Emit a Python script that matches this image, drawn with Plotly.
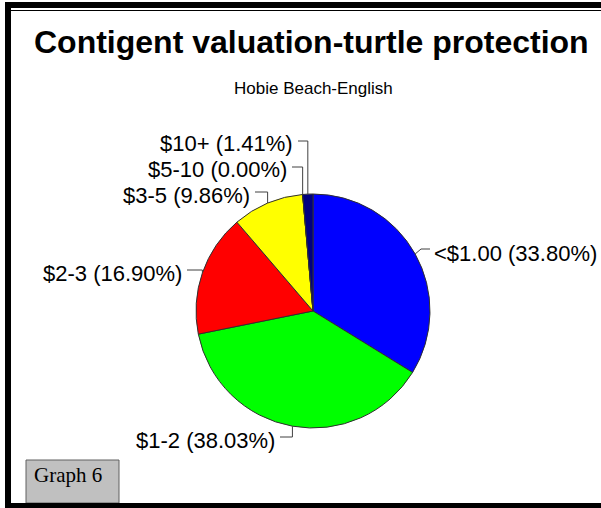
import math
import plotly.graph_objects as go

# ---- data ----
categories = ["<$1.00", "$1-2", "$2-3", "$3-5", "$5-10", "$10+"]
percents = [33.80, 38.03, 16.90, 9.86, 0.00, 1.41]
slice_colors = ["#0000FF", "#00FF00", "#FF0000", "#FFFF00", "#FF00FF", "#000080"]
title_text = "Contigent valuation-turtle protection"
subtitle_text = "Hobie Beach-English"
badge_text = "Graph 6"

# ---- layout helpers (pixels -> paper) ----
W, H = 601, 508
def px(x):
    return x / W
def py(y):
    return 1 - y / H

cx, cy, R = 313, 311, 117
dom_x = [px(cx - R), px(cx + R)]
dom_y = [py(cy + R), py(cy - R)]

# label placements: (text x, text center y, leader y, side)
label_pos = [
    (433, 253, 249, "left"),
    (276, 440, 437, "right"),
    (183, 273, 270, "right"),
    (251, 195, 192, "right"),
    (288, 169, 167, "right"),
    (294, 144, 141, "right"),
]

fig = go.Figure()
fig.add_trace(go.Pie(
    labels=categories,
    values=percents,
    sort=False,
    direction="clockwise",
    rotation=0,
    marker=dict(colors=slice_colors, line=dict(color="#303030", width=1)),
    textinfo="none",
    hoverinfo="label+percent",
    showlegend=False,
    domain=dict(x=dom_x, y=dom_y),
))

shapes = []
annotations = []
total = sum(percents)
cum = 0.0
for cat, val, (lx, ly, lny, side) in zip(categories, percents, label_pos):
    mid = (cum + val / 2) / total * 2 * math.pi
    cum += val
    ax = cx + R * math.sin(mid)
    ay = cy - R * math.cos(mid)
    if side == "right":
        sx, ex = lx + 4, max(lx + 12, ax if abs(ax - lx) < 20 else lx + 12)
    else:
        sx, ex = lx - 3, lx - 12
    path = "M {},{} L {},{} L {},{}".format(px(sx), py(lny), px(ex), py(lny), px(ax), py(ay))
    shapes.append(dict(type="path", path=path, xref="paper", yref="paper",
                       line=dict(color="#404040", width=1)))
    annotations.append(dict(
        text="{} ({:.2f}%)".format(cat, val),
        x=px(lx), y=py(ly), xref="paper", yref="paper",
        xanchor="left" if side == "left" else "right", yanchor="middle",
        showarrow=False, borderpad=0,
        font=dict(family="Liberation Sans, Arial", size=22, color="#000000"),
    ))

# title and subtitle
annotations.append(dict(text="<b>" + title_text + "</b>", x=px(311), y=py(42), xref="paper", yref="paper",
                        xanchor="center", yanchor="middle", showarrow=False,
                        font=dict(family="Liberation Sans, Arial", size=32, color="#000000")))
annotations.append(dict(text=subtitle_text, x=px(313), y=py(88), xref="paper", yref="paper",
                        xanchor="center", yanchor="middle", showarrow=False,
                        font=dict(family="Liberation Sans, Arial", size=17, color="#000000")))
# Graph badge
shapes.append(dict(type="rect", xref="paper", yref="paper", x0=px(26), x1=px(119), y0=py(503), y1=py(460),
                   fillcolor="#C0C0C0", line=dict(color="#606060", width=1)))
annotations.append(dict(text=badge_text, x=px(32), y=py(475), xref="paper", yref="paper",
                        xanchor="left", yanchor="middle", showarrow=False,
                        font=dict(family="Liberation Serif, Times New Roman", size=21, color="#000000")))

# frame
shapes += [
    dict(type="rect", xref="paper", yref="paper", x0=px(5), x1=px(601), y0=py(8), y1=py(2),
         fillcolor="#000000", line=dict(width=0)),
    dict(type="rect", xref="paper", yref="paper", x0=px(5), x1=px(11), y0=py(508), y1=py(2),
         fillcolor="#000000", line=dict(width=0)),
    dict(type="rect", xref="paper", yref="paper", x0=px(5), x1=px(601), y0=py(508), y1=py(503),
         fillcolor="#000000", line=dict(width=0)),
    dict(type="line", xref="paper", yref="paper", x0=px(11), x1=px(601), y0=py(10.5), y1=py(10.5),
         line=dict(color="#000000", width=1)),
]

fig.update_layout(
    width=W, height=H,
    margin=dict(l=0, r=0, t=0, b=0),
    paper_bgcolor="#FFFFFF",
    plot_bgcolor="#FFFFFF",
    shapes=shapes,
    annotations=annotations,
)
fig.write_html("out.html", config={"displayModeBar": False},
               post_script="document.body.style.margin='0';document.body.style.overflow='hidden';")
